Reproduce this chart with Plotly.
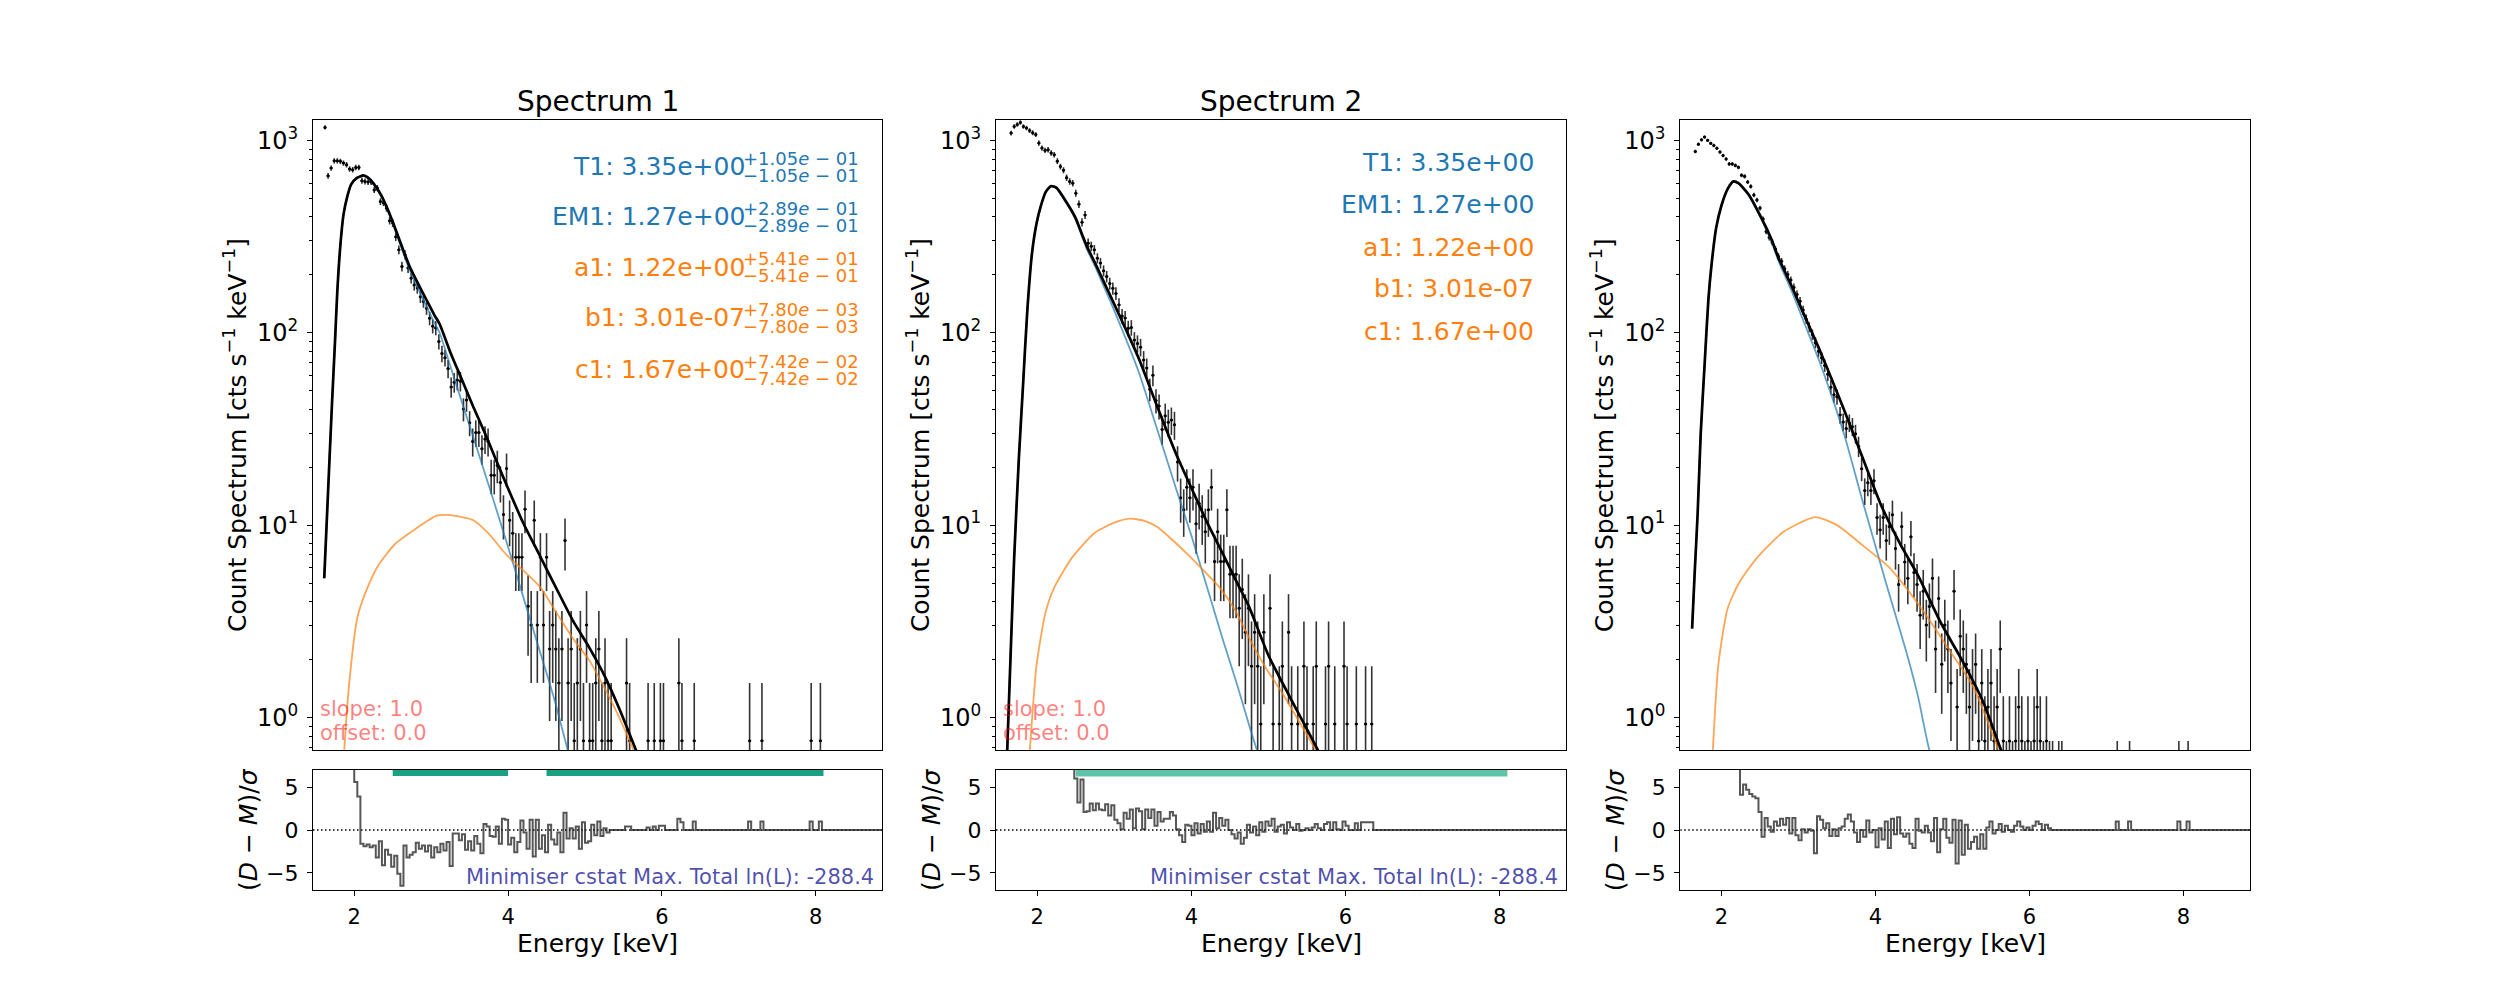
import numpy as np
import plotly.graph_objects as go

# ---------------- binning ----------------
BIN_LO = 1.60      # lower edge of the first bin [keV]
BIN_W = 0.04       # bin width [keV]

# ---------------- Spectrum 1 ----------------
rate_per_count_1 = 0.757
counts_1 = [
    1542, 864, 948, 1034, 1034, 1028, 1007, 987, 939, 929,      # 1.62-1.98
    956, 956, 815, 808, 802, 802, 730, 746, 635, 627,           # 2.02-2.38
    586, 505, 491, 417, 357, 292, 336, 287, 254, 234,           # 2.42-2.78
    226, 203, 192, 177, 157, 143, 140, 119, 103, 98,            # 2.82-3.18
    86, 69, 73, 75, 74, 53, 59, 45, 36, 40,                     # 3.22-3.58
    40, 33, 37, 36, 24, 24, 27, 22, 15, 26,                     # 3.62-3.98
    14, 12, 9, 9, 9, 16, 5, 4, 14, 4,                           # 4.02-4.38
    9, 4, 9, 3, 4, 3, 2, 3, 11, 2,                              # 4.42-4.78
    3, 1, 2, 3, 1, 4, 1, 1, 2, 3,                               # 4.82-5.18
    1, 2, 1, 1, 0, 0, 0, 0, 2, 1,                               # 5.22-5.58
    0, 0, 0, 0, 0, 1, 0, 1, 0, 1,                               # 5.62-5.98
    1, 0, 0, 0, 0, 2, 1, 0, 0, 0,                               # 6.02-6.38
    1, 0, 0, 0, 0, 0, 0, 0, 0, 0,                               # 6.42-6.78
    0, 0, 0, 0, 0, 0, 0, 0, 1, 0,                               # 6.82-7.18
    0, 0, 1, 0, 0, 0, 0, 0, 0, 0,                               # 7.22-7.58
    0, 0, 0, 0, 0, 0, 0, 0, 1, 0,                               # 7.62-7.98
    0, 1, 0, 0, 0, 0, 0, 0, 0, 0,                               # 8.02-8.38
    0, 0, 0, 0, 0, 0, 0, 0, 0, 0,                               # 8.42-8.78
    0, 0, 0,                                                    # 8.82-8.90
]
resid_1 = [
    30, 25, 22, 20, 17, 15, 13, 11, 9.5, 8,
    5.6, 3.9, -1.6, -1.9, -1.7, -2.0, -1.8, -3.2, -1.3, -4.1,
    -2.3, -2.9, -4.3, -3.0, -5.1, -6.5, -1.8, -3.2, -2.9, -2.6,
    -1.5, -2.2, -1.8, -2.5, -1.8, -3.2, -2.0, -2.6, -1.6, -2.4,
    -1.4, -4.2, -0.4, -0.4, -1.2, -0.5, -2.3, -1.3, -2.4, -0.7,
    -1.6, -2.7, 0.7, 0.4, -0.7, -0.8, 0.4, -1.6, 1.3, 1.2,
    -1.7, -0.9, -2.6, -1.4, 1.1, -0.3, -2.2, 1.2, -3.1, 1.2,
    -2.2, -0.6, -2.6, 0.6, -1.1, -1.7, -0.3, -2.6, 2.0, -1.0,
    0.2, -1.0, 0.4, -2.2, 0.9, -1.5, -1.3, 0.6, -0.6, 1.0,
    -0.7, 0.2, -0.3, 0.0, 0.0, 0.0, 0.0, 0.0, 0.4, 0.4,
    0, 0, 0, 0, 0, 0.3, 0.0, 0.4, 0.0, 0.5,
    0.5, 0, 0, 0, 0, 1.3, 0.9, 0, 0, 0,
    1.0, 0, 0, 0, 0, 0, 0, 0, 0, 0,
    0, 0, 0, 0, 0, 0, 0, 0, 1.0, 0,
    0, 0, 1.0, 0, 0, 0, 0, 0, 0, 0,
    0, 0, 0, 0, 0, 0, 0, 0, 1.0, 0,
    0, 1.0, 0, 0, 0, 0, 0, 0, 0, 0,
    0, 0, 0, 0, 0, 0, 0, 0, 0, 0,
    0, 0, 0,
]
model_E_1 = [1.61, 1.66, 1.71, 1.75, 1.78, 1.82, 1.86, 1.91, 1.96, 2.03, 2.12, 2.18, 2.25, 2.35,
             2.45, 2.55, 2.64, 2.72, 2.83, 2.94, 3.04, 3.11, 3.25, 3.40, 3.55, 3.70, 3.85, 4.00,
             4.20, 4.40, 4.65, 4.85, 5.05, 5.25, 5.45, 5.70]
model_tot_1 = [5.3, 15, 42, 90, 164, 286, 410, 511, 590, 637, 657, 640, 598, 519,
               424, 334, 267, 221, 180, 148, 124, 111, 79, 57, 41, 30, 21.5, 15.5,
               10.2, 7.1, 4.5, 3.15, 2.33, 1.66, 1.1, 0.62]
therm_E_1 = [1.61, 1.66, 1.71, 1.75, 1.78, 1.82, 1.86, 1.91, 1.96, 2.03, 2.12, 2.18, 2.25, 2.35,
             2.45, 2.55, 2.64, 2.72, 2.83, 2.94, 3.04, 3.11, 3.25, 3.40, 3.55, 3.70, 3.85, 4.00,
             4.20, 4.40, 4.60, 4.80]
therm_1 = [5.3, 15, 42, 90, 164, 286, 410, 511, 588, 634, 652, 635, 592, 512,
           417, 326, 258, 212, 170, 137, 113, 100, 67, 43.5, 28.5, 18.5, 12, 7.7,
           4.2, 2.3, 1.25, 0.62]
nonth_E_1 = [1.85, 1.87, 1.93, 2.04, 2.15, 2.31, 2.53, 2.80, 3.07, 3.22, 3.40, 3.55, 3.75, 3.98,
             4.20, 4.42, 4.63, 4.85, 5.05, 5.22, 5.42, 5.63, 5.68]
nonth_1 = [0.5, 0.678, 1.44, 3.3, 4.5, 6.15, 7.98, 9.58, 11.2, 11.3, 11.0, 10.6, 9.0, 7.0,
           5.8, 4.75, 3.5, 2.55, 2.0, 1.51, 1.05, 0.678, 0.6]

# ---------------- Spectrum 2 ----------------
rate_per_count_2 = 0.925
counts_2 = [
    0, 1179, 1277, 1308, 1339, 1277, 1254, 1216, 1184, 1158,    # 1.62-1.98
    1046, 986, 959, 966, 929, 910, 843, 790, 757, 692,          # 2.02-2.38
    661, 648, 574, 504, 406, 443, 316, 304, 292, 264,           # 2.42-2.78
    249, 227, 212, 195, 184, 173, 151, 132, 129, 114,           # 2.82-3.18
    115, 99, 95, 91, 78, 71, 55, 65, 48, 45,                    # 3.22-3.58
    34, 40, 37, 38, 36, 23, 15, 13, 17, 15,                     # 3.62-3.98
    17, 11, 14, 12, 10, 13, 17, 7, 10, 7,                       # 4.02-4.38
    7, 13, 6, 6, 6, 4, 5, 3, 4, 2,                              # 4.42-4.78
    3, 2, 1, 3, 0, 4, 1, 0, 1, 2,                               # 4.82-5.18
    0, 3, 1, 0, 1, 0, 2, 1, 0, 1,                               # 5.22-5.58
    2, 0, 0, 1, 2, 0, 1, 0, 0, 2,                               # 5.62-5.98
    1, 0, 0, 1, 0, 0, 1, 0, 1, 0,                               # 6.02-6.38
    0, 0, 0, 0, 0, 0, 0, 0, 0, 0,                               # 6.42-6.78
    0, 0, 0, 0, 0, 0, 0, 0, 0, 0,                               # 6.82-7.18
    0, 0, 0, 0, 0, 0, 0, 0, 0, 0,                               # 7.22-7.58
    0, 0, 0, 0, 0, 0, 0, 0, 0, 0,                               # 7.62-7.98
    0, 0, 0, 0, 0, 0, 0, 0, 0, 0,                               # 8.02-8.38
    0, 0, 0, 0, 0, 0, 0, 0, 0, 0,                               # 8.42-8.78
    0, 0, 0,                                                    # 8.82-8.90
]
resid_2 = [
    30, 30, 30, 29, 28, 27, 26, 25, 24, 23,
    21, 20, 19, 18, 17, 16, 15, 14, 13, 12,
    10, 8.5, 6.0, 3.2, 5.9, 2.1, 2.2, 3.1, 2.3, 3.1,
    2.4, 2.3, 3.0, 1.7, 2.9, 1.2, 0.8, 0.1, 2.0, 1.3,
    2.4, 0.2, 2.5, 2.2, 0.1, 2.4, 1.4, 2.4, 0.5, 2.1,
    1.0, 1.3, 1.3, 2.1, 1.7, 0.1, -0.6, -1.4, 0.6, 0.5,
    -0.6, 0.8, -0.4, 0.7, -0.2, 1.0, -0.2, 2.0, 0.2, 1.4,
    0.5, 1.2, 0.0, -0.5, -1.0, -0.3, -1.6, -0.9, 0.6, -0.3,
    0.4, -0.6, 0.9, -0.2, 1.0, 0.5, 1.3, -0.2, 0.4, 0.6,
    -0.4, 0.9, 0.3, 0.0, 0.7, -0.1, 0.0, 0.2, 0.0, 0.3,
    0.7, 0.2, 0.0, 0.7, 0.9, 0.0, 0.9, 0.1, 0.0, 1.0,
    0.5, 0, 0, 0.8, 0, 0.9, 0.9, 0.9, 0.9, 0,
    0, 0, 0, 0, 0, 0, 0, 0, 0, 0,
    0, 0, 0, 0, 0, 0, 0, 0, 0, 0,
    0, 0, 0, 0, 0, 0, 0, 0, 0, 0,
    0, 0, 0, 0, 0, 0, 0, 0, 0, 0,
    0, 0, 0, 0, 0, 0, 0, 0, 0, 0,
    0, 0, 0, 0, 0, 0, 0, 0, 0, 0,
    0, 0, 0,
]
model_E_2 = [1.605, 1.66, 1.70, 1.76, 1.816, 1.87, 1.931, 1.99, 2.047, 2.11, 2.18, 2.25, 2.36,
             2.49, 2.58, 2.64, 2.75, 2.88, 2.95, 3.14, 3.32, 3.55, 3.80, 4.00, 4.20, 4.40,
             4.60, 4.75, 5.00, 5.29, 5.64, 5.70]
model_tot_2 = [0.6, 2.5, 6.8, 22, 54.5, 130, 259, 370, 458, 540, 579, 566, 490,
               400, 325, 283, 230, 178, 155, 106, 73, 42, 23.5, 15.6, 10.4, 7.2,
               4.95, 3.75, 2.1, 1.25, 0.678, 0.6]
therm_E_2 = [1.605, 1.66, 1.70, 1.76, 1.816, 1.87, 1.931, 1.99, 2.047, 2.11, 2.18, 2.25, 2.36,
             2.49, 2.58, 2.64, 2.75, 2.88, 2.95, 3.14, 3.32, 3.55, 3.80, 4.00, 4.20, 4.40,
             4.60, 4.75, 4.85, 4.90]
therm_2 = [0.6, 2.5, 6.8, 22, 54.5, 130, 258, 368, 455, 537, 575, 561, 484,
           393, 317, 274, 221, 168, 145, 95, 62, 32, 15.5, 8.8, 4.8, 2.6,
           1.45, 0.91, 0.678, 0.6]
nonth_E_2 = [1.88, 1.903, 1.99, 2.105, 2.221, 2.453, 2.742, 3.0, 3.205, 3.40, 3.553, 3.75, 3.958,
             4.16, 4.364, 4.57, 4.768, 4.97, 5.174, 5.40, 5.61, 5.66]
nonth_2 = [0.5, 0.678, 1.87, 3.5, 4.75, 6.8, 9.1, 10.3, 10.8, 10.5, 9.8, 8.4, 7.0,
           5.8, 4.75, 3.6, 2.5, 1.8, 1.35, 0.95, 0.678, 0.6]

# ---------------- Spectrum 3 ----------------
rate_per_count_3 = 0.378
counts_3 = [
    0, 2315, 2526, 2664, 2751, 2646, 2553, 2487, 2407, 2302,    # 1.62-1.98
    2209, 2116, 1995, 1995, 1960, 1915, 1741, 1720, 1608, 1524, # 2.02-2.38
    1376, 1296, 1177, 1032, 889, 828, 780, 720, 659, 622,       # 2.42-2.78
    569, 532, 497, 455, 418, 386, 347, 312, 283, 259,           # 2.82-3.18
    235, 212, 196, 179, 161, 138, 126, 123, 99, 91,             # 3.22-3.58
    84, 90, 86, 79, 68, 52, 40, 44, 40, 45,                     # 3.62-3.98
    29, 25, 29, 22, 26, 30, 20, 13, 26, 17,                     # 4.02-4.38
    14, 23, 15, 13, 9, 12, 8, 10, 14, 6,                        # 4.42-4.78
    11, 5, 8, 6, 4, 12, 3, 7, 6, 5,                             # 4.82-5.18
    3, 4, 5, 2, 4, 2, 3, 4, 2, 3,                               # 5.22-5.58
    6, 2, 1, 2, 1, 2, 3, 2, 1, 2,                               # 5.62-5.98
    1, 2, 3, 2, 1, 2, 1, 1, 0, 1,                               # 6.02-6.38
    1, 0, 0, 0, 0, 0, 0, 0, 0, 0,                               # 6.42-6.78
    0, 0, 0, 0, 0, 0, 0, 0, 1, 0,                               # 6.82-7.18
    0, 0, 1, 0, 0, 0, 0, 0, 0, 0,                               # 7.22-7.58
    0, 0, 0, 0, 0, 0, 0, 0, 1, 0,                               # 7.62-7.98
    0, 1, 0, 0, 0, 0, 0, 0, 0, 0,                               # 8.02-8.38
    0, 0, 0, 0, 0, 0, 0, 0, 0, 0,                               # 8.42-8.78
    0, 0, 0,                                                    # 8.82-8.90
]
resid_3 = [
    40, 38, 35, 32, 30, 28, 26, 24, 22, 20,
    18, 16, 15, 13, 11, 8.5, 4.1, 5.3, 4.7, 4.2,
    3.9, 3.7, 2.1, -0.8, 1.4, 0.4, -0.2, 1.0, 0.5, 1.3,
    0.6, 1.4, -0.4, 1.4, -0.6, -1.2, 0.1, -0.3, 0.1, -0.1,
    -2.7, 1.6, 1.2, 0.2, 0.8, -0.7, 0.1, -0.7, 0.2, 0.4,
    1.3, 1.8, 1.0, -0.3, -1.4, 0.0, -0.8, 1.1, -0.3, 0.0,
    -2.0, 0.2, -1.1, 1.0, -2.1, 1.3, -0.5, 1.5, -0.4, -0.8,
    -0.4, -1.6, -2.1, 1.3, -0.1, -0.3, 0.5, -0.3, -1.3, 1.4,
    -2.6, 0.1, 1.3, -0.9, -1.5, 1.2, -3.9, 1.1, -2.9, 0.6,
    -2.2, -1.4, -0.8, -2.2, -0.5, -2.2, 0.3, 1.0, -0.4, 0.0,
    0.7, -0.2, 0.5, 0.0, -0.2, 0.5, 1.0, 0.4, 0.0, 0.3,
    0.0, 0.5, 1.0, 0.7, 0.0, 0.6, 0.2, 0.0, 0.0, 0.0,
    0, 0, 0, 0, 0, 0, 0, 0, 0, 0,
    0, 0, 0, 0, 0, 0, 0, 0, 1.0, 0,
    0, 0, 1.0, 0, 0, 0, 0, 0, 0, 0,
    0, 0, 0, 0, 0, 0, 0, 0, 1.0, 0,
    0, 1.0, 0, 0, 0, 0, 0, 0, 0, 0,
    0, 0, 0, 0, 0, 0, 0, 0, 0, 0,
    0, 0, 0,
]
model_E_3 = [1.618, 1.65, 1.69, 1.73, 1.78, 1.83, 1.87, 1.93, 2.00, 2.08, 2.155, 2.22, 2.35,
             2.52, 2.65, 2.74, 2.91, 3.08, 3.26, 3.43, 3.60, 3.84, 4.08, 4.32, 4.56, 4.85,
             5.15, 5.40, 5.63, 5.68]
model_tot_3 = [2.9, 5.5, 11.5, 30, 68, 150, 225, 350, 460, 560, 612, 600, 525,
               394, 305, 245, 175, 122, 84, 57.5, 39, 22, 12.5, 8.0, 5.4, 3.1,
               1.9, 1.2, 0.678, 0.6]
therm_E_3 = [1.618, 1.65, 1.69, 1.73, 1.78, 1.83, 1.87, 1.93, 2.00, 2.08, 2.155, 2.22, 2.35,
             2.52, 2.65, 2.74, 2.91, 3.08, 3.26, 3.43, 3.60, 3.84, 4.08, 4.17, 4.40, 4.55,
             4.70, 4.76]
therm_3 = [2.9, 5.5, 11.5, 30, 68, 150, 225, 348.5, 458, 556, 607.5, 595, 519,
           387, 297, 236, 165, 111, 73, 47, 29, 13, 6, 4.5, 2.2, 1.3,
           0.678, 0.6]
nonth_E_3 = [1.87, 1.887, 1.958, 2.078, 2.226, 2.465, 2.80, 3.214, 3.50, 3.80, 4.168, 4.45,
             4.75, 4.973, 5.27, 5.60, 5.65]
nonth_3 = [0.5, 0.678, 1.87, 3.67, 5.0, 6.8, 9.2, 11.0, 10.0, 8.05, 6.08, 4.43,
           3.0, 2.2, 1.44, 0.678, 0.6]

# ---------------- annotations / labels ----------------
titles = ["Spectrum 1", "Spectrum 2", ""]
param_names = ["T1", "EM1", "a1", "b1", "c1"]
param_values = ["3.35e+00", "1.27e+00", "1.22e+00", "3.01e-07", "1.67e+00"]
param_errors = ["1.05e-01", "2.89e-01", "5.41e-01", "7.80e-03", "7.42e-02"]
stat_text = "Minimiser cstat Max. Total ln(L): -288.4"
fit_ranges_1 = [[2.5, 4.0], [4.5, 8.1]]
fit_ranges_2 = [[2.5, 8.1]]

# ---------------- style ----------------
BLUE = "#1f77b4"
ORANGE = "#ff7f0e"
FONT = "DejaVu Sans"
XR = [1.464, 8.864]
YR = [np.log10(0.678), np.log10(1276)]
xdoms = [[0.1252, 0.3529], [0.3984, 0.6265], [0.6721, 0.9000]]
TOP_DOM = [0.25, 0.88]
RES_DOM = [0.11, 0.23]

fig = go.Figure()

panels = [
    (counts_1, rate_per_count_1, resid_1, model_E_1, model_tot_1, therm_E_1, therm_1, nonth_E_1, nonth_1),
    (counts_2, rate_per_count_2, resid_2, model_E_2, model_tot_2, therm_E_2, therm_2, nonth_E_2, nonth_2),
    (counts_3, rate_per_count_3, resid_3, model_E_3, model_tot_3, therm_E_3, therm_3, nonth_E_3, nonth_3),
]


def ax_name(i):
    return ("x", "y") if i == 1 else (f"x{i}", f"y{i}")


for k, (cnt, rpc, res, mE, mT, tE, tT, nE, nT) in enumerate(panels, start=1):
    xt, yt = ax_name(k)
    xr, yr = ax_name(k + 3)
    c = np.array(cnt, dtype=float)
    E = BIN_LO + BIN_W * (np.arange(len(c)) + 0.5)
    rate = c * rpc
    err = np.sqrt(c) * rpc
    m = c > 0
    errm = np.minimum(err, rate * 0.999)
    fig.add_trace(go.Scatter(
        x=E[m], y=rate[m], mode="markers",
        marker=dict(size=3, color="black"),
        error_y=dict(type="data", array=err[m], arrayminus=errm[m], thickness=1.6, width=0,
                     color="rgba(0,0,0,0.8)"),
        error_x=dict(type="constant", value=BIN_W / 2, thickness=1.6, width=0,
                     color="rgba(0,0,0,0.8)"),
        xaxis=xt, yaxis=yt, hoverinfo="skip"))
    fig.add_trace(go.Scatter(x=tE, y=tT, mode="lines",
                             line=dict(color="rgba(31,119,180,0.7)", width=1.8, shape="spline", smoothing=0.6),
                             xaxis=xt, yaxis=yt))
    fig.add_trace(go.Scatter(x=nE, y=nT, mode="lines",
                             line=dict(color="rgba(255,127,14,0.7)", width=1.8, shape="spline", smoothing=0.6),
                             xaxis=xt, yaxis=yt))
    fig.add_trace(go.Scatter(x=mE, y=mT, mode="lines",
                             line=dict(color="black", width=2.7, shape="spline", smoothing=0.6),
                             xaxis=xt, yaxis=yt))
    # residuals
    r = np.array(res, dtype=float)
    Er = BIN_LO + BIN_W * (np.arange(len(r)) + 0.5)
    fig.add_trace(go.Scatter(x=XR, y=[0, 0], mode="lines",
                             line=dict(color="black", width=1.5, dash="1.5px,2.5px"),
                             xaxis=xr, yaxis=yr))
    fig.add_trace(go.Scatter(x=Er, y=r, mode="lines",
                             line=dict(color="rgba(30,30,30,0.75)", width=2, shape="hvh"),
                             xaxis=xr, yaxis=yr))

# ---------------- axes ----------------
minor_vals = [0.7, 0.8, 0.9] + [d * 10 ** p for p in range(0, 3) for d in range(2, 10)]
layout_axes = {}
for k in range(1, 4):
    dom = xdoms[k - 1]
    sx = "" if k == 1 else str(k)
    layout_axes[f"xaxis{sx}"] = dict(
        domain=dom, range=XR, anchor=f"y{sx}", showline=True, mirror=True, linecolor="black",
        linewidth=1.1, ticks="", showticklabels=False, showgrid=False, zeroline=False)
    layout_axes[f"yaxis{sx}"] = dict(
        domain=TOP_DOM, anchor=f"x{sx}", type="log", range=YR, showline=True, mirror=True,
        linecolor="black", linewidth=1.1, showgrid=False, zeroline=False,
        tickmode="array", tickvals=[1, 10, 100, 1000],
        ticktext=["10<sup>0</sup>", "10<sup>1</sup>", "10<sup>2</sup>", "10<sup>3</sup>"],
        ticks="outside", ticklen=5, tickwidth=1.1, tickcolor="black",
        tickfont=dict(family=FONT, size=24, color="black"), ticklabelstandoff=4,
        minor=dict(tickmode="array", tickvals=minor_vals, ticks="outside", ticklen=3,
                   tickwidth=0.9, tickcolor="black", showgrid=False))
    j = str(k + 3)
    layout_axes[f"xaxis{j}"] = dict(
        domain=dom, range=XR, anchor=f"y{j}", showline=True, mirror=True, linecolor="black",
        linewidth=1.1, tickmode="array", tickvals=[2, 4, 6, 8], ticks="outside", ticklen=5,
        tickwidth=1.1, tickcolor="black", tickfont=dict(family=FONT, size=21, color="black"),
        ticklabelstandoff=3, showgrid=False, zeroline=False)
    layout_axes[f"yaxis{j}"] = dict(
        domain=RES_DOM, anchor=f"x{j}", range=[-7, 7], showline=True, mirror=True,
        linecolor="black", linewidth=1.1, tickmode="array", tickvals=[-5, 0, 5],
        ticktext=["\u22125", "0", "5"], ticks="outside", ticklen=5, tickwidth=1.1,
        tickcolor="black", tickfont=dict(family=FONT, size=22, color="black"),
        ticklabelstandoff=4, showgrid=False, zeroline=False)

# ---------------- annotations ----------------
ann = []
W, H = 2500.0, 1000.0
left_px = [313.0, 996.1, 1680.3]
right_px = [882.3, 1566.2, 2250.0]
for k in range(3):
    cx = (left_px[k] + right_px[k]) / 2 / W
    if titles[k]:
        ann.append(dict(text=titles[k], x=cx, y=1 - 101.7 / H, xref="paper", yref="paper",
                        showarrow=False, xanchor="center", yanchor="middle",
                        font=dict(family=FONT, size=28, color="black")))
    ann.append(dict(text="Count Spectrum [cts s<sup>\u22121</sup> keV<sup>\u22121</sup>]",
                    x=(left_px[k] - 78) / W, y=1 - 435 / H, xref="paper", yref="paper",
                    showarrow=False, textangle=-90, xanchor="center", yanchor="middle",
                    font=dict(family=FONT, size=25, color="black")))
    ann.append(dict(text="(<i>D</i> \u2212 <i>M</i>)/<i>\u03c3</i>",
                    x=(left_px[k] - 65) / W, y=1 - 830 / H, xref="paper", yref="paper",
                    showarrow=False, textangle=-90, xanchor="center", yanchor="middle",
                    font=dict(family=FONT, size=25, color="black")))
    ann.append(dict(text="Energy [keV]", x=cx, y=1 - 943 / H, xref="paper", yref="paper",
                    showarrow=False, xanchor="center", yanchor="middle",
                    font=dict(family=FONT, size=25, color="black")))

param_colors = [BLUE, BLUE, ORANGE, ORANGE, ORANGE]
# panel 1 : values with asymmetric errors
p1_right = 745.4
p1_y = [166.7, 216.6, 267.3, 317.6, 369.7]
for name, val, err, col, yy in zip(param_names, param_values, param_errors, param_colors, p1_y):
    ann.append(dict(text=f"{name}: {val}", x=(p1_right + 2) / W, y=1 - yy / H, xref="paper",
                    yref="paper", showarrow=False, xanchor="right", yanchor="middle",
                    font=dict(family=FONT, size=25, color=col)))
    mant, ex = err.split("e")
    sign = "\u2212" if ex.startswith("-") else "+"
    etxt = f"{mant}<i>e</i> {sign} {ex[1:]}"
    ann.append(dict(text="+" + etxt, x=(p1_right - 4) / W, y=1 - (yy - 8.5) / H, xref="paper",
                    yref="paper", showarrow=False, xanchor="left", yanchor="middle",
                    font=dict(family=FONT, size=18, color=col)))
    ann.append(dict(text="\u2212" + etxt, x=(p1_right - 4) / W, y=1 - (yy + 8.5) / H, xref="paper",
                    yref="paper", showarrow=False, xanchor="left", yanchor="middle",
                    font=dict(family=FONT, size=18, color=col)))
# panel 2 : values only
p2_right = 1536.3
p2_y = [162.4, 204.5, 247.0, 289.0, 331.5]
for name, val, col, yy in zip(param_names, param_values, param_colors, p2_y):
    ann.append(dict(text=f"{name}: {val}", x=p2_right / W, y=1 - yy / H, xref="paper", yref="paper",
                    showarrow=False, xanchor="right", yanchor="middle",
                    font=dict(family=FONT, size=25, color=col)))
# slope / offset and stat text for panels 1 and 2
for k in range(2):
    ann.append(dict(text="slope: 1.0", x=(left_px[k] + 5) / W, y=1 - 708.8 / H, xref="paper",
                    yref="paper", showarrow=False, xanchor="left", yanchor="middle",
                    font=dict(family=FONT, size=21, color="rgba(255,0,0,0.5)")))
    ann.append(dict(text="offset: 0.0", x=(left_px[k] + 5) / W, y=1 - 732.6 / H, xref="paper",
                    yref="paper", showarrow=False, xanchor="left", yanchor="middle",
                    font=dict(family=FONT, size=21, color="rgba(255,0,0,0.5)")))
    ann.append(dict(text=stat_text, x=(right_px[k] - 6) / W, y=1 - 876.7 / H, xref="paper",
                    yref="paper", showarrow=False, xanchor="right", yanchor="middle",
                    font=dict(family=FONT, size=21, color="rgba(0,0,139,0.7)")))

# fit-range bars in the residual panels
shapes = []
for a, b in fit_ranges_1:
    shapes.append(dict(type="rect", xref="x4", yref="y4", x0=a, x1=b, y0=6.3, y1=7.0,
                       fillcolor="rgb(26,160,130)", line=dict(width=0), layer="above"))
for a, b in fit_ranges_2:
    shapes.append(dict(type="rect", xref="x5", yref="y5", x0=a, x1=b, y0=6.25, y1=7.0,
                       fillcolor="rgb(95,195,170)", line=dict(width=0), layer="above"))

fig.update_layout(
    width=2500, height=1000, margin=dict(l=0, r=0, t=0, b=0),
    paper_bgcolor="white", plot_bgcolor="white", showlegend=False,
    font=dict(family=FONT, size=21, color="black"),
    annotations=ann, shapes=shapes, **layout_axes)

fig.write_html("out.html")
